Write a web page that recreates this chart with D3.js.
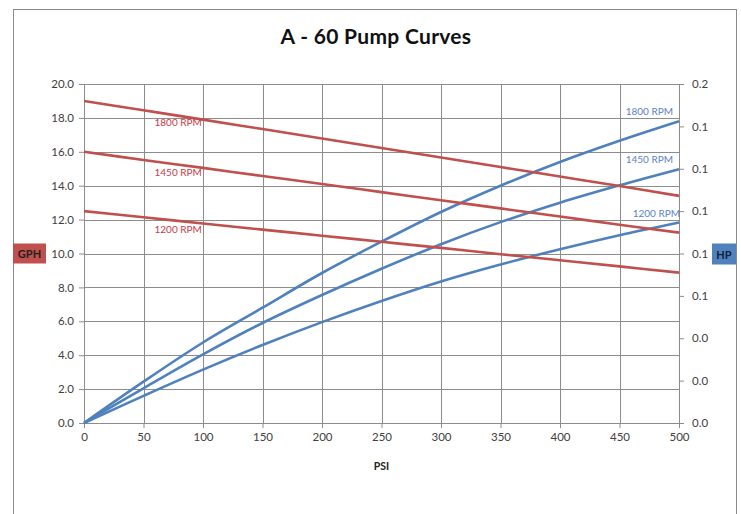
<!DOCTYPE html>
<html>
<head>
<meta charset="utf-8">
<script src="https://cdn.jsdelivr.net/npm/d3@7"></script>
<style>
    body { margin: 0; background: #fff; }
    text { font-family: Lato, "Open Sans", sans-serif; }
</style>
</head>
<body>
<div id="chart"></div>
<script>

// Pressure steps (PSI) along the x-axis.
const psi = [0, 50, 100, 150, 200, 250, 300, 350, 400, 450, 500];

// Flow (GPH, left axis).
const gph1800 = [19.0, 18.45, 17.9, 17.34, 16.78, 16.22, 15.66, 15.1, 14.54, 13.98, 13.4];
const gph1450 = [16.0, 15.52, 15.05, 14.57, 14.1, 13.62, 13.14, 12.66, 12.18, 11.7, 11.23];
const gph1200 = [12.5, 12.14, 11.77, 11.41, 11.05, 10.69, 10.33, 9.96, 9.6, 9.24, 8.87];

// Power (HP, right axis).
const hp1800 = [0, 0.0195, 0.038, 0.0544, 0.0708, 0.0856, 0.0996, 0.112, 0.1232, 0.1332, 0.1424];
const hp1450 = [0, 0.0164, 0.0324, 0.0472, 0.0604, 0.0728, 0.0844, 0.0948, 0.104, 0.1122, 0.1198];
const hp1200 = [0, 0.0128, 0.0252, 0.0368, 0.0476, 0.0576, 0.0668, 0.0748, 0.082, 0.0886, 0.0946];

const rpmLabels = ["1800 RPM", "1450 RPM", "1200 RPM"];

const margin = {top: 84, left: 84, right: 62, bottom: 91};
const fullWidth = 741;
const fullHeight = 514;
const width = fullWidth - margin.left - margin.right;
const height = fullHeight - margin.top - margin.bottom;

const red = "#c0504d";
const blue = "#4f81bd";
const gridColor = "#8c8c8c";

const x = d3.scaleLinear().domain([0, 500]).range([0, width]);
const yGph = d3.scaleLinear().domain([0, 20]).range([height, 0]);
const yHp = d3.scaleLinear().domain([0, 0.16]).range([height, 0]);

const root = d3.select("#chart").append("svg")
    .attr("width", fullWidth)
    .attr("height", fullHeight);

// Chart frame.
root.append("rect")
    .attr("x", 13.5)
    .attr("y", 9.5)
    .attr("width", 723)
    .attr("height", 520)
    .attr("fill", "none")
    .attr("stroke", "#8a8a8a");

root.append("text")
    .attr("x", 376)
    .attr("y", 44)
    .attr("text-anchor", "middle")
    .style("font-size", "21px")
    .style("font-weight", "bold")
    .style("letter-spacing", "0.3px")
    .attr("fill", "#111")
    .text("A - 60 Pump Curves");

const svg = root.append("g")
    .attr("transform", `translate(${margin.left},${margin.top})`);

// Grid lines.
svg.append("g")
    .selectAll("line")
    .data(yGph.ticks(10))
    .join("line")
    .attr("x1", 0)
    .attr("x2", width)
    .attr("y1", d => Math.round(yGph(d)) + 0.5)
    .attr("y2", d => Math.round(yGph(d)) + 0.5)
    .attr("stroke", gridColor);

svg.append("g")
    .selectAll("line")
    .data(x.ticks(10))
    .join("line")
    .attr("x1", d => Math.round(x(d)) + 0.5)
    .attr("x2", d => Math.round(x(d)) + 0.5)
    .attr("y1", 0)
    .attr("y2", height)
    .attr("stroke", gridColor);

// Axes.
const styleAxis = g => {
    g.selectAll(".domain").attr("stroke", gridColor);
    g.selectAll(".tick line").attr("stroke", gridColor);
    g.selectAll(".tick text")
        .attr("fill", "#404040")
        .style("font-size", "11.5px")
        .style("font-family", "Lato, 'Open Sans', sans-serif");
};

svg.append("g")
    .attr("transform", `translate(0,${height})`)
    .call(d3.axisBottom(x).ticks(10).tickSize(5).tickPadding(5).tickSizeOuter(0))
    .call(styleAxis);

svg.append("g")
    .call(d3.axisLeft(yGph).ticks(10).tickSize(5).tickPadding(5).tickFormat(d3.format(".1f")).tickSizeOuter(0))
    .call(styleAxis);

svg.append("g")
    .attr("transform", `translate(${width},0)`)
    .call(d3.axisRight(yHp).ticks(8).tickSize(5).tickPadding(8).tickFormat(d3.format(".1f")).tickSizeOuter(0))
    .call(styleAxis);

// Curves.
const gphLine = d3.line().x((d, i) => x(psi[i])).y(d => yGph(d)).curve(d3.curveCatmullRom.alpha(0.5));
const hpLine = d3.line().x((d, i) => x(psi[i])).y(d => yHp(d)).curve(d3.curveCatmullRom.alpha(0.5));

[hp1800, hp1450, hp1200].forEach(set => {
    svg.append("path")
        .attr("d", hpLine(set))
        .attr("fill", "none")
        .attr("stroke", blue)
        .attr("stroke-width", 2.6);
});

[gph1800, gph1450, gph1200].forEach(set => {
    svg.append("path")
        .attr("d", gphLine(set))
        .attr("fill", "none")
        .attr("stroke", red)
        .attr("stroke-width", 2.6);
});

// RPM labels: red ones hang under the flow curves, blue ones sit above the power curve ends.
[gph1800, gph1450, gph1200].forEach((set, i) => {
    svg.append("text")
        .attr("x", x(psi[1]) + 11)
        .attr("y", yGph(set[1]) + 16)
        .attr("fill", "#cc3a4a")
        .style("font-size", "10px")
        .text(rpmLabels[i]);
});

[hp1800, hp1450, hp1200].forEach((set, i) => {
    const last = set.length - 1;
    svg.append("text")
        .attr("x", x(psi[last]) - (i === 2 ? -1 : 6))
        .attr("y", yHp(set[last]) - 6)
        .attr("text-anchor", "end")
        .attr("fill", "#5b82c8")
        .style("font-size", "10px")
        .text(rpmLabels[i]);
});

// Axis titles.
const gphBox = root.append("g").attr("transform", `translate(13,${margin.top + yGph(10) - 10})`);
gphBox.append("rect").attr("width", 33).attr("height", 20).attr("fill", red);
gphBox.append("text")
    .attr("x", 16.5).attr("y", 14.5)
    .attr("text-anchor", "middle")
    .style("font-size", "11px").style("font-weight", "bold")
    .attr("fill", "#1f1f1f")
    .text("GPH");

const hpBox = root.append("g").attr("transform", `translate(712,${margin.top + yGph(10) - 10})`);
hpBox.append("rect").attr("width", 24).attr("height", 21).attr("fill", blue);
hpBox.append("text")
    .attr("x", 12).attr("y", 15)
    .attr("text-anchor", "middle")
    .style("font-size", "11px").style("font-weight", "bold")
    .attr("fill", "#10213d")
    .text("HP");

root.append("text")
    .attr("x", margin.left + width / 2)
    .attr("y", 470)
    .attr("text-anchor", "middle")
    .style("font-size", "10.5px").style("font-weight", "bold")
    .attr("fill", "#222")
    .text("PSI");

</script>
</body>
</html>
